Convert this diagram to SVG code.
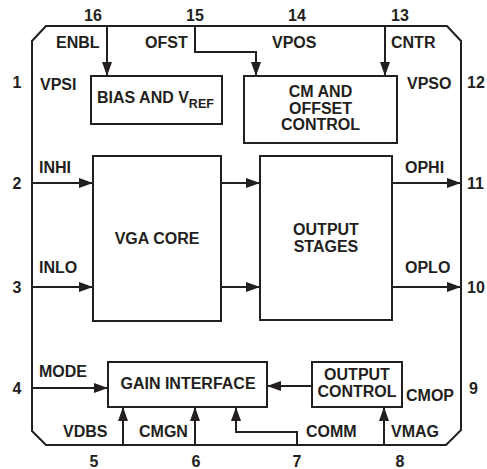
<svg xmlns="http://www.w3.org/2000/svg" width="487" height="469" viewBox="0 0 487 469">
<defs>
<style>
text{font-family:"Liberation Sans",Arial,Helvetica,sans-serif;font-weight:bold;font-size:16px;fill:#231f20}
.c{text-anchor:middle}
.box{fill:#fff;stroke:#231f20;stroke-width:2}
.ln{fill:none;stroke:#231f20;stroke-width:2}
.sub{font-size:12.5px}
</style>
<marker id="ah" markerWidth="14" markerHeight="10" refX="14" refY="5" orient="auto" markerUnits="userSpaceOnUse">
<path d="M0,0 L14,5 L0,10 Z" fill="#231f20"/>
</marker>
</defs>
<rect width="487" height="469" fill="#fff"/>
<g id="package">
<path class="ln" d="M46,26 H447 L461,41 V430 L446,445 H46 L32,431 V41 Z"/>
</g>
<g id="pins">
<text class="c" x="93" y="21">16</text>
<text class="c" x="195" y="21">15</text>
<text class="c" x="297" y="21">14</text>
<text class="c" x="400" y="21">13</text>
<text x="467" y="88">12</text>
<text class="c" x="17" y="88">1</text>
<text class="c" x="17" y="189">2</text>
<text class="c" x="17" y="293">3</text>
<text x="467" y="189">11</text>
<text x="467" y="293">10</text>
<text class="c" x="17" y="394">4</text>
<text x="469" y="394">9</text>
<text class="c" x="94" y="467">5</text>
<text class="c" x="196" y="467">6</text>
<text class="c" x="297" y="467">7</text>
<text class="c" x="400" y="467">8</text>
</g>
<g id="pin-labels">
<text x="56" y="48">ENBL</text>
<text x="145" y="48">OFST</text>
<text x="272" y="48">VPOS</text>
<text x="391" y="48">CNTR</text>
<text x="40" y="90">VPSI</text>
<text x="407" y="89">VPSO</text>
<text x="39" y="173">INHI</text>
<text x="39" y="273">INLO</text>
<text x="405" y="173">OPHI</text>
<text x="405" y="273">OPLO</text>
<text x="39" y="377">MODE</text>
<text x="63" y="437">VDBS</text>
<text x="139" y="437">CMGN</text>
<text x="306" y="437">COMM</text>
<text x="391" y="437">VMAG</text>
<text x="406" y="401">CMOP</text>
</g>
<g id="connectors">
<path class="ln" d="M107,26 V76" marker-end="url(#ah)"/>
<path class="ln" d="M195,26 V52 H256 V76" marker-end="url(#ah)"/>
<path class="ln" d="M385,26 V76" marker-end="url(#ah)"/>
<path class="ln" d="M32,183 H93" marker-end="url(#ah)"/>
<path class="ln" d="M32,287 H93" marker-end="url(#ah)"/>
<path class="ln" d="M221,183 H260" marker-end="url(#ah)"/>
<path class="ln" d="M221,287 H260" marker-end="url(#ah)"/>
<path class="ln" d="M392,183 H461" marker-end="url(#ah)"/>
<path class="ln" d="M392,287 H461" marker-end="url(#ah)"/>
<path class="ln" d="M32,388 H108" marker-end="url(#ah)"/>
<path class="ln" d="M312,386 H267" marker-end="url(#ah)"/>
<path class="ln" d="M123,445 V407" marker-end="url(#ah)"/>
<path class="ln" d="M195,445 V407" marker-end="url(#ah)"/>
<path class="ln" d="M297,445 V432 H236 V407" marker-end="url(#ah)"/>
<path class="ln" d="M384,445 V407" marker-end="url(#ah)"/>
</g>
<g id="bias">
<rect class="box" x="91" y="76" width="131" height="48"/>
<text x="97" y="103">BIAS AND V<tspan class="sub" dy="5">REF</tspan></text>
</g>
<g id="cm-offset">
<rect class="box" x="244" y="76" width="153" height="67"/>
<text class="c" x="320.5" y="97">CM AND</text>
<text class="c" x="320.5" y="113.5">OFFSET</text>
<text class="c" x="320.5" y="130">CONTROL</text>
</g>
<g id="vga-core">
<rect class="box" x="93" y="156" width="128" height="165"/>
<text class="c" x="157" y="244">VGA CORE</text>
</g>
<g id="output-stages">
<rect class="box" x="260" y="156" width="132" height="164"/>
<text class="c" x="326" y="235">OUTPUT</text>
<text class="c" x="326" y="252">STAGES</text>
</g>
<g id="gain-interface">
<rect class="box" x="108" y="362" width="159" height="45"/>
<text class="c" x="188" y="389">GAIN INTERFACE</text>
</g>
<g id="output-control">
<rect class="box" x="312" y="362" width="90" height="45"/>
<text class="c" x="357" y="380">OUTPUT</text>
<text class="c" x="357" y="397">CONTROL</text>
</g>
</svg>
